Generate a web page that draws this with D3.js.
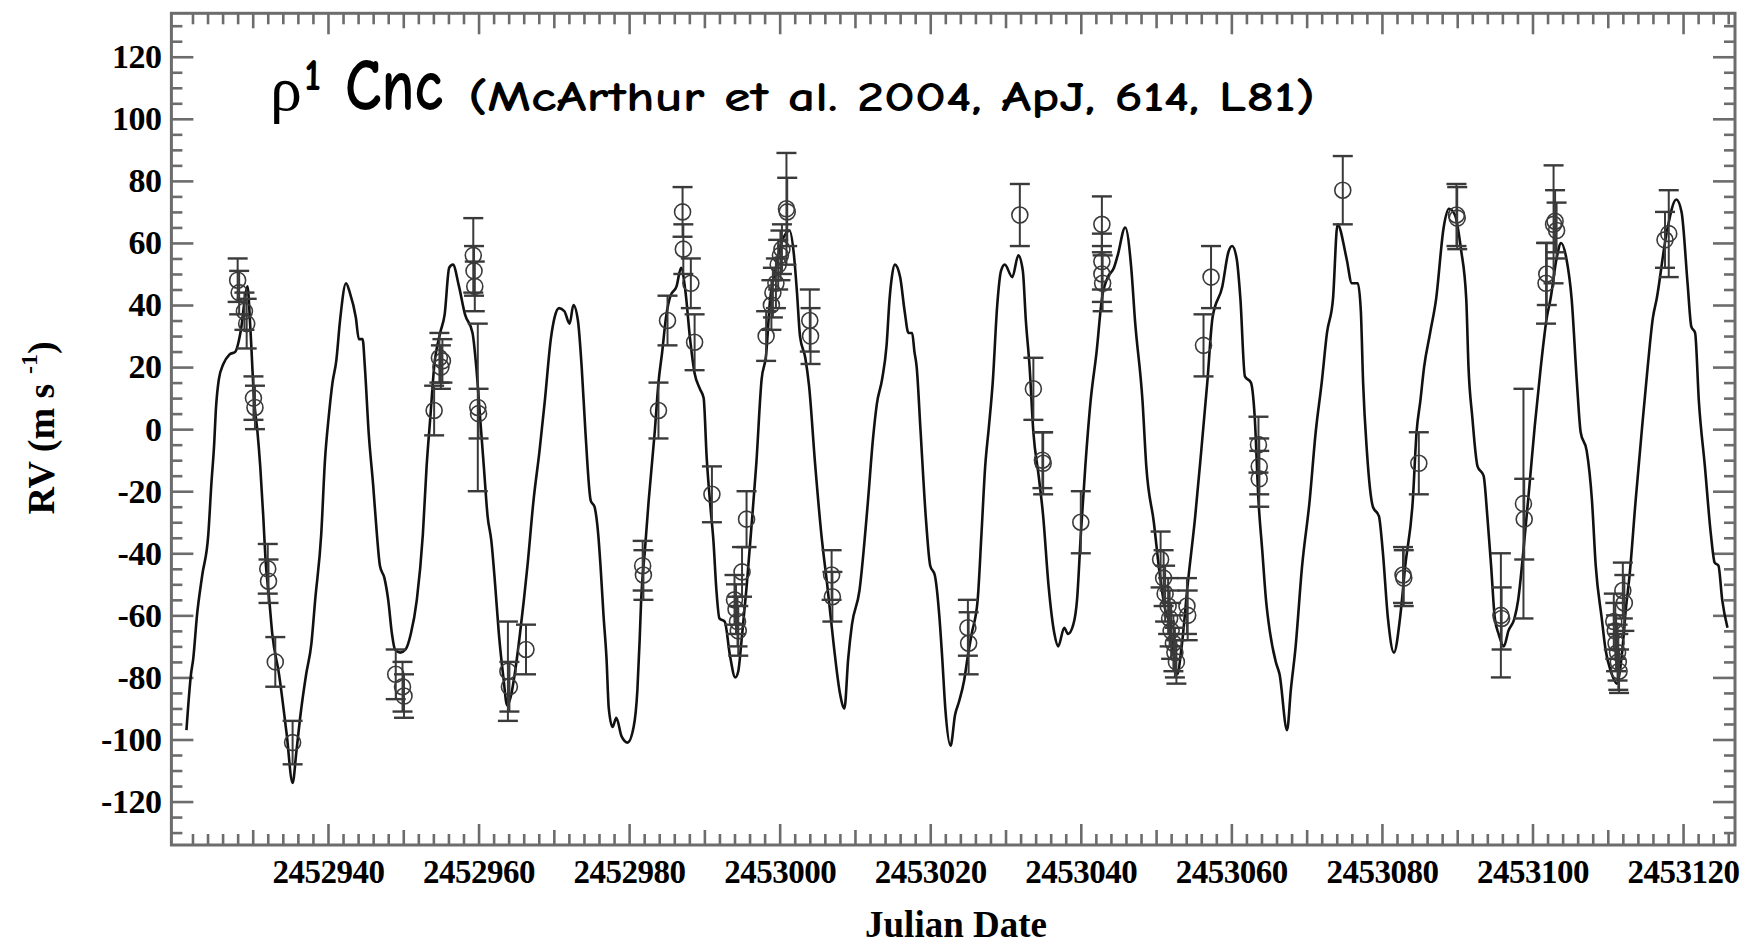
<!DOCTYPE html>
<html><head><meta charset="utf-8">
<script src="https://cdn.jsdelivr.net/npm/d3@7"></script>
<style>html,body{margin:0;padding:0;background:#fff}svg{display:block}</style>
</head><body>
<svg id="chart" width="1748" height="946"></svg>
<script>
// ---- model curve (Julian Date, RV m/s) ----
const modelJD = [2452921.2,2452921.8,2452922.1,2452922.6,2452923.3,2452924.1,2452924.5,2452924.9,2452925.1,2452925.5,2452926.1,2452926.9,2452927.7,2452928.2,2452928.5,2452928.9,2452929.3,2452929.7,2452930.2,2452930.6,2452931.0,2452931.4,2452931.7,2452932.2,2452932.6,2452933.5,2452934.5,2452935.3,2452935.8,2452936.3,2452937.1,2452937.8,2452938.3,2452939.1,2452939.6,2452940.1,2452940.6,2452941.1,2452941.6,2452942.4,2452942.9,2452943.7,2452944.1,2452944.6,2452944.9,2452945.4,2452946.0,2452946.5,2452946.9,2452947.5,2452948.0,2452948.5,2452948.9,2452949.6,2452950.3,2452951.0,2452951.8,2452952.6,2452953.1,2452953.6,2452954.1,2452954.9,2452955.5,2452956.1,2452956.6,2452957.4,2452958.2,2452959.2,2452959.7,2452960.2,2452960.7,2452961.2,2452961.7,2452962.2,2452962.7,2452963.3,2452963.8,2452964.3,2452964.8,2452965.5,2452966.5,2452967.3,2452968.1,2452968.8,2452969.6,2452970.1,2452970.7,2452971.4,2452972.1,2452972.6,2452973.2,2452973.7,2452974.2,2452974.9,2452975.4,2452975.9,2452976.2,2452976.6,2452977.0,2452977.3,2452977.8,2452978.3,2452979.0,2452979.8,2452980.6,2452981.1,2452981.4,2452981.6,2452982.1,2452982.6,2452983.4,2452983.9,2452984.4,2452984.9,2452985.5,2452986.3,2452986.9,2452987.5,2452988.1,2452988.7,2452989.4,2452989.9,2452990.3,2452990.8,2452991.2,2452991.6,2452992.0,2452992.7,2452993.4,2452994.1,2452994.5,2452994.9,2452995.6,2452996.2,2452996.9,2452997.6,2452998.2,2452998.7,2452999.5,2453000.2,2453000.8,2453001.3,2453001.9,2453002.3,2453002.7,2453003.4,2453003.9,2453004.7,2453005.5,2453006.4,2453007.2,2453008.0,2453008.6,2453009.1,2453009.6,2453010.6,2453011.7,2453012.4,2453012.9,2453013.6,2453014.2,2453014.6,2453014.9,2453015.3,2453016.0,2453016.6,2453017.1,2453017.6,2453017.9,2453018.2,2453018.7,2453019.4,2453020.0,2453020.6,2453021.2,2453021.6,2453022.0,2453022.7,2453023.3,2453023.8,2453024.5,2453025.0,2453025.5,2453026.3,2453026.8,2453027.3,2453027.8,2453028.3,2453028.9,2453029.4,2453029.9,2453030.9,2453031.7,2453032.3,2453032.7,2453033.2,2453033.7,2453034.4,2453035.0,2453035.7,2453036.5,2453037.0,2453037.8,2453038.3,2453039.0,2453039.5,2453040.0,2453040.6,2453041.3,2453042.1,2453042.8,2453043.6,2453044.4,2453044.9,2453045.9,2453046.7,2453047.2,2453048.2,2453048.7,2453049.7,2453050.4,2453051.2,2453051.8,2453052.3,2453052.8,2453053.4,2453054.2,2453055.2,2453056.0,2453056.8,2453057.5,2453058.8,2453059.6,2453060.1,2453060.7,2453061.2,2453061.8,2453062.6,2453063.1,2453063.6,2453064.1,2453064.6,2453065.1,2453065.9,2453066.4,2453067.4,2453067.9,2453068.5,2453069.4,2453070.4,2453071.2,2453072.0,2453072.7,2453073.5,2453074.1,2453075.3,2453076.0,2453076.8,2453077.2,2453077.5,2453078.0,2453078.8,2453079.6,2453080.1,2453080.8,2453081.6,2453082.4,2453083.1,2453084.1,2453084.6,2453085.1,2453085.6,2453086.4,2453087.2,2453088.2,2453088.9,2453089.7,2453090.5,2453091.2,2453091.5,2453092.0,2453092.7,2453093.5,2453094.0,2453094.5,2453095.0,2453095.5,2453096.2,2453096.8,2453097.6,2453098.1,2453098.8,2453099.6,2453100.3,2453101.1,2453101.9,2453102.4,2453103.2,2453103.8,2453104.5,2453105.2,2453105.9,2453106.4,2453107.2,2453107.9,2453108.4,2453109.2,2453109.7,2453110.4,2453111.2,2453111.9,2453112.4,2453112.9,2453113.7,2453114.5,2453115.3,2453116.0,2453116.5,2453117.8,2453119.1,2453119.8,2453120.6,2453121.1,2453121.6,2453122.1,2453122.9,2453123.7,2453124.2,2453124.7,2453125.2,2453125.9];
const modelRV = [-97,-79,-74,-60,-47,-34,-18,-4,6,16,21,24,25,29,33,41,46,32,9,0,-12,-28,-42,-55,-66,-79,-98,-114,-104,-93,-79,-69,-55,-34,-10,4,15,22,35,47,44,36,29,29,20,-1,-18,-34,-44,-48,-55,-66,-71,-72,-71,-66,-55,-34,-12,4,20,31,37,52,53,46,37,31,20,4,-12,-28,-36,-50,-66,-80,-89,-86,-79,-66,-44,-23,-7,9,29,36,39,38,34,40,35,20,-1,-23,-25,-34,-44,-60,-74,-90,-96,-93,-99,-101,-96,-84,-68,-55,-39,-23,-1,15,25,36,43,46,52,44,29,18,13,10,-9,-25,-36,-52,-61,-62,-73,-80,-78,-69,-51,-33,-11,16,24,41,52,60,63,64,56,44,30,23,14,-11,-33,-52,-70,-85,-90,-74,-63,-52,-24,-3,8,16,27,42,49,53,49,38,31,31,25,20,0,-28,-44,-47,-60,-74,-90,-102,-92,-88,-81,-73,-66,-55,-34,-12,1,15,40,51,53,49,56,51,35,20,-1,-15,-28,-50,-66,-70,-64,-66,-63,-55,-34,-12,9,25,42,49,52,56,65,52,35,9,-12,-30,-45,-58,-63,-72,-79,-70,-50,-28,-7,15,36,46,57,59,55,42,17,15,4,-23,-39,-55,-65,-75,-79,-97,-84,-71,-44,-23,-1,15,31,42,66,55,47,47,38,15,-7,-25,-28,-39,-61,-72,-61,-44,-23,-1,9,20,31,42,65,71,69,58,42,20,4,-12,-15,-28,-44,-61,-66,-70,-65,-61,-55,-39,-18,1,20,36,42,55,60,55,42,15,-1,-7,-23,-44,-61,-71,-78,-82,-72,-58,-47,-23,-1,20,36,42,63,74,70,47,33,31,9,-12,-34,-43,-44,-55,-64];

// ---- observations ----
const obsJD = [2452928.0,2452928.2,2452928.9,2452929.2,2452930.1,2452930.3,2452932.0,2452932.1,2452933.0,2452935.3,2452949.0,2452949.9,2452950.1,2452954.1,2452954.8,2452955.0,2452955.2,2452959.3,2452959.4,2452959.5,2452959.9,2452960.0,2452963.9,2452964.1,2452966.3,2452981.8,2452981.9,2452983.9,2452985.1,2452987.1,2452987.2,2452988.2,2452988.7,2452991.0,2452994.0,2452994.2,2452994.4,2452994.5,2452995.0,2452995.6,2452998.2,2452998.9,2452999.1,2452999.5,2452999.8,2453000.1,2453000.3,2453000.9,2453001.0,2453004.0,2453004.1,2453006.9,2453007.0,2453025.0,2453025.1,2453031.9,2453033.7,2453034.9,2453035.0,2453040.0,2453042.8,2453042.8,2453042.8,2453042.9,2453050.6,2453051.0,2453051.2,2453051.6,2453051.8,2453052.0,2453052.3,2453052.5,2453052.7,2453054.1,2453054.2,2453056.3,2453057.3,2453063.6,2453063.7,2453063.7,2453074.8,2453082.8,2453082.9,2453084.9,2453089.9,2453090.0,2453095.8,2453095.9,2453098.8,2453098.9,2453101.8,2453101.9,2453102.8,2453103.0,2453103.2,2453110.8,2453111.0,2453111.1,2453111.3,2453111.4,2453111.5,2453112.0,2453112.2,2453117.6,2453118.1];
const obsRV = [48,44,38,34,10,7,-45,-49,-75,-101,-79,-83,-86,6,23,20,22,56,51,46,7,5,-78,-83,-71,-44,-47,6,35,70,58,47,28,-21,-55,-58,-62,-65,-46,-29,30,40,44,47,53,56,58,71,70,35,30,-47,-54,-64,-69,69,13,-10,-11,-30,66,54,50,47,-42,-48,-53,-57,-61,-65,-69,-72,-75,-57,-60,27,49,-5,-12,-16,77,-47,-48,-11,69,68,-60,-61,-24,-29,47,50,66,67,64,-62,-65,-69,-72,-75,-78,-52,-56,61,63];
const obsErr = [7,7,6,8,7,7,8,7,8,7,8,8,7,8,8,7,7,12,8,8,27,8,16,8,8,8,8,9,8,8,8,8,9,9,8,8,8,8,8,9,8,8,8,8,8,8,8,18,11,10,9,8,8,9,10,10,10,9,10,10,9,9,9,9,9,9,9,9,9,9,9,8,7,9,8,10,10,9,9,9,11,9,9,10,10,10,20,10,37,13,13,10,19,10,9,9,9,9,9,9,7,9,9,9,14];

// ---- axes ----
const xTickValues = [2452940,2452960,2452980,2453000,2453020,2453040,2453060,2453080,2453100,2453120];
const yTickValues = [-120,-100,-80,-60,-40,-20,0,20,40,60,80,100,120];
const xDomain = [2452919.2, 2453126.9];
const yDomain = [-134, 134];

const svg = d3.select('#chart');
const L = 171.4, R = 1735, T = 13.3, B = 845;
const x = d3.scaleLinear().domain(xDomain).range([L, R]);
const y = d3.scaleLinear().domain(yDomain).range([B, T]);

const axisColor = '#6c6c6c';
const serif = "'Liberation Serif','Times New Roman',Times,serif";
const comic = "'Comic Sans MS','Comic Neue','Noto Sans',sans-serif";

// tick sets
const minorX = d3.range(2452920, 2453127, 2).filter(v => v % 10 !== 0);
const medX = d3.range(2452920, 2453127, 10).filter(v => v % 20 !== 0);
const minorY = d3.range(-130, 131, 5).filter(v => v % 20 !== 0);

function styleAxis(g) {
  g.select('.domain').remove();
  g.selectAll('line').attr('stroke', axisColor).attr('stroke-width', 2.6);
}
const plain = d => String(d);

// bottom
svg.append('g').attr('transform', `translate(0,${B})`)
  .call(d3.axisBottom(x).tickValues(minorX).tickSize(-11).tickFormat('')).call(styleAxis);
svg.append('g').attr('transform', `translate(0,${B})`)
  .call(d3.axisBottom(x).tickValues(medX).tickSize(-15).tickFormat('')).call(styleAxis);
const xb = svg.append('g').attr('transform', `translate(0,${B})`)
  .call(d3.axisBottom(x).tickValues(xTickValues).tickSize(-21).tickPadding(15).tickFormat(plain)).call(styleAxis);
xb.selectAll('text').attr('font-family', serif).attr('font-weight', 'bold')
  .attr('font-size', 33).attr('fill', '#000').attr('letter-spacing', -0.5);
// top
svg.append('g').attr('transform', `translate(0,${T})`)
  .call(d3.axisTop(x).tickValues(minorX).tickSize(-11).tickFormat('')).call(styleAxis);
svg.append('g').attr('transform', `translate(0,${T})`)
  .call(d3.axisTop(x).tickValues(medX).tickSize(-15).tickFormat('')).call(styleAxis);
svg.append('g').attr('transform', `translate(0,${T})`)
  .call(d3.axisTop(x).tickValues(xTickValues).tickSize(-21).tickFormat('')).call(styleAxis);
// left
svg.append('g').attr('transform', `translate(${L},0)`)
  .call(d3.axisLeft(y).tickValues(minorY).tickSize(-11).tickFormat('')).call(styleAxis);
const yl = svg.append('g').attr('transform', `translate(${L},0)`)
  .call(d3.axisLeft(y).tickValues(yTickValues).tickSize(-22).tickPadding(10).tickFormat(plain)).call(styleAxis);
yl.selectAll('text').attr('font-family', serif).attr('font-weight', 'bold')
  .attr('font-size', 34).attr('fill', '#000').attr('letter-spacing', -0.5);
// right
svg.append('g').attr('transform', `translate(${R},0)`)
  .call(d3.axisRight(y).tickValues(minorY).tickSize(-11).tickFormat('')).call(styleAxis);
svg.append('g').attr('transform', `translate(${R},0)`)
  .call(d3.axisRight(y).tickValues(yTickValues).tickSize(-22).tickFormat('')).call(styleAxis);

// frame
svg.append('rect').attr('x', L).attr('y', T).attr('width', R - L).attr('height', B - T)
  .attr('fill', 'none').attr('stroke', axisColor).attr('stroke-width', 3);

// model curve
const modelData = modelJD.map((d, i) => [d, modelRV[i]]);
svg.append('path').datum(modelData)
  .attr('d', d3.line().x(d => x(d[0])).y(d => y(d[1])).curve(d3.curveMonotoneX))
  .attr('fill', 'none').attr('stroke', '#111').attr('stroke-width', 2.6)
  .attr('stroke-linejoin', 'round');

// observations with error bars
const obs = obsJD.map((d, i) => ({ jd: d, rv: obsRV[i], e: obsErr[i] }));
const og = svg.append('g').attr('stroke', '#3a3a3a').attr('fill', 'none');
const capW = 10;
const pts = og.selectAll('g.pt').data(obs).join('g').attr('class', 'pt');
pts.append('line').attr('x1', d => x(d.jd)).attr('x2', d => x(d.jd))
  .attr('y1', d => y(d.rv + d.e)).attr('y2', d => y(d.rv - d.e)).attr('stroke-width', 2);
pts.append('line').attr('x1', d => x(d.jd) - capW).attr('x2', d => x(d.jd) + capW)
  .attr('y1', d => y(d.rv + d.e)).attr('y2', d => y(d.rv + d.e)).attr('stroke-width', 2.4);
pts.append('line').attr('x1', d => x(d.jd) - capW).attr('x2', d => x(d.jd) + capW)
  .attr('y1', d => y(d.rv - d.e)).attr('y2', d => y(d.rv - d.e)).attr('stroke-width', 2.4);
pts.append('circle').attr('cx', d => x(d.jd)).attr('cy', d => y(d.rv)).attr('r', 8)
  .attr('stroke-width', 1.6);

// axis titles
svg.append('text').attr('x', 956).attr('y', 937).attr('text-anchor', 'middle')
  .attr('font-family', serif).attr('font-weight', 'bold').attr('font-size', 37)
  .text('Julian Date');
const yt = svg.append('text').attr('transform', 'translate(54,428) rotate(-90)')
  .attr('text-anchor', 'middle').attr('font-family', serif).attr('font-weight', 'bold')
  .attr('font-size', 38);
yt.append('tspan').text('RV (m s ');
yt.append('tspan').attr('font-size', 24).attr('dy', -17).text('-1');
yt.append('tspan').attr('dy', 17).text(')');

// title annotation
svg.append('text').attr('x', 270).attr('y', 110).attr('font-family', serif)
  .attr('font-size', 64).text('ρ');
svg.append('text').attr('x', 304).attr('y', 90).attr('font-family', comic)
  .attr('font-size', 44).attr('font-weight', 'bold').text('1');
svg.append('text').attr('x', 345).attr('y', 110).attr('font-family', comic)
  .attr('font-size', 74).attr('font-weight', 'bold')
  .attr('textLength', 98).attr('lengthAdjust', 'spacingAndGlyphs').text('Cnc');
svg.append('text').attr('x', 468).attr('y', 111).attr('font-family', comic)
  .attr('font-size', 42).attr('font-weight', 'bold')
  .attr('textLength', 847).attr('lengthAdjust', 'spacingAndGlyphs')
  .text('(McArthur et al. 2004, ApJ, 614, L81)');
</script>
</body></html>
